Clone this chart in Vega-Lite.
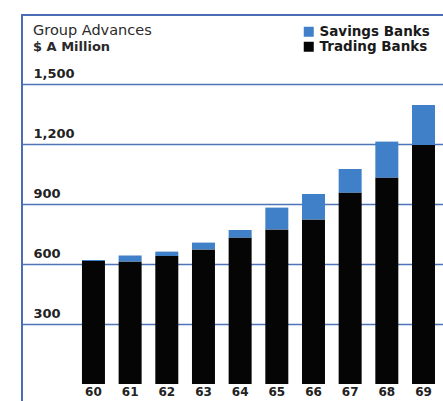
{
  "$schema": "https://vega.github.io/schema/vega-lite/v6.json",
  "width": 423,
  "height": 388,
  "padding": {"left": 22, "top": 15, "right": 0, "bottom": 0},
  "background": "#ffffff",
  "title": {
    "text": "Group Advances",
    "subtitle": "$ A Million",
    "anchor": "start",
    "frame": "group",
    "orient": "top",
    "offset": -40,
    "dx": 11,
    "font": "DejaVu Sans",
    "fontSize": 14.5,
    "fontWeight": "normal",
    "color": "#2a2a2a",
    "subtitleFont": "DejaVu Sans",
    "subtitleFontSize": 13,
    "subtitleFontWeight": "bold",
    "subtitleColor": "#2a2a2a",
    "subtitlePadding": 3
  },
  "data": {
    "values": [
      {"year": "60", "bank": "Trading Banks", "value": 615},
      {"year": "60", "bank": "Savings Banks", "value": 5},
      {"year": "61", "bank": "Trading Banks", "value": 612},
      {"year": "61", "bank": "Savings Banks", "value": 30},
      {"year": "62", "bank": "Trading Banks", "value": 640},
      {"year": "62", "bank": "Savings Banks", "value": 22},
      {"year": "63", "bank": "Trading Banks", "value": 673},
      {"year": "63", "bank": "Savings Banks", "value": 34},
      {"year": "64", "bank": "Trading Banks", "value": 732},
      {"year": "64", "bank": "Savings Banks", "value": 38},
      {"year": "65", "bank": "Trading Banks", "value": 773},
      {"year": "65", "bank": "Savings Banks", "value": 109},
      {"year": "66", "bank": "Trading Banks", "value": 823},
      {"year": "66", "bank": "Savings Banks", "value": 127},
      {"year": "67", "bank": "Trading Banks", "value": 957},
      {"year": "67", "bank": "Savings Banks", "value": 118},
      {"year": "68", "bank": "Trading Banks", "value": 1032},
      {"year": "68", "bank": "Savings Banks", "value": 180},
      {"year": "69", "bank": "Trading Banks", "value": 1195},
      {"year": "69", "bank": "Savings Banks", "value": 200}
    ]
  },
  "mark": {"type": "bar"},
  "encoding": {
    "x": {
      "field": "year",
      "type": "ordinal",
      "scale": {"paddingInner": 0.373, "paddingOuter": 0.954, "align": 0.857},
      "axis": {
        "title": null,
        "domain": false,
        "ticks": false,
        "tickSize": 0,
        "labelAngle": 0,
        "offset": -17,
        "labelPadding": 0,
        "labelBaseline": "top",
        "labelFont": "DejaVu Sans",
        "labelFontSize": 12,
        "labelFontWeight": "bold",
        "labelColor": "#222222",
        "grid": false
      }
    },
    "y": {
      "field": "value",
      "type": "quantitative",
      "stack": "zero",
      "scale": {"domain": [-95, 1845], "nice": false, "zero": false},
      "axis": {
        "title": null,
        "values": [300, 600, 900, 1200, 1500],
        "format": ",.0f",
        "domain": false,
        "ticks": false,
        "tickSize": 0,
        "labelAlign": "left",
        "labelBaseline": "alphabetic",
        "labelPadding": -11,
        "labelOffset": -7,
        "labelFont": "DejaVu Sans",
        "labelFontSize": 13,
        "labelFontWeight": "bold",
        "labelColor": "#222222",
        "grid": true,
        "gridColor": "#4f74b8",
        "gridWidth": 1.5,
        "gridOpacity": 1
      }
    },
    "color": {
      "field": "bank",
      "type": "nominal",
      "scale": {"domain": ["Savings Banks", "Trading Banks"], "range": ["#3f80c8", "#050505"]},
      "legend": {
        "title": null,
        "orient": "none",
        "legendX": 280,
        "legendY": 10,
        "symbolType": "square",
        "symbolSize": 100,
        "symbolStrokeWidth": 0,
        "symbolOpacity": 1,
        "labelFont": "DejaVu Sans",
        "labelFontSize": 13.5,
        "labelFontWeight": "bold",
        "labelColor": "#1a1a1a",
        "labelOffset": 4,
        "rowPadding": 0,
        "padding": 0
      }
    },
    "order": {"field": "bank", "sort": "descending"}
  },
  "config": {
    "view": {"stroke": "#4a6db5", "strokeWidth": 2}
  }
}
